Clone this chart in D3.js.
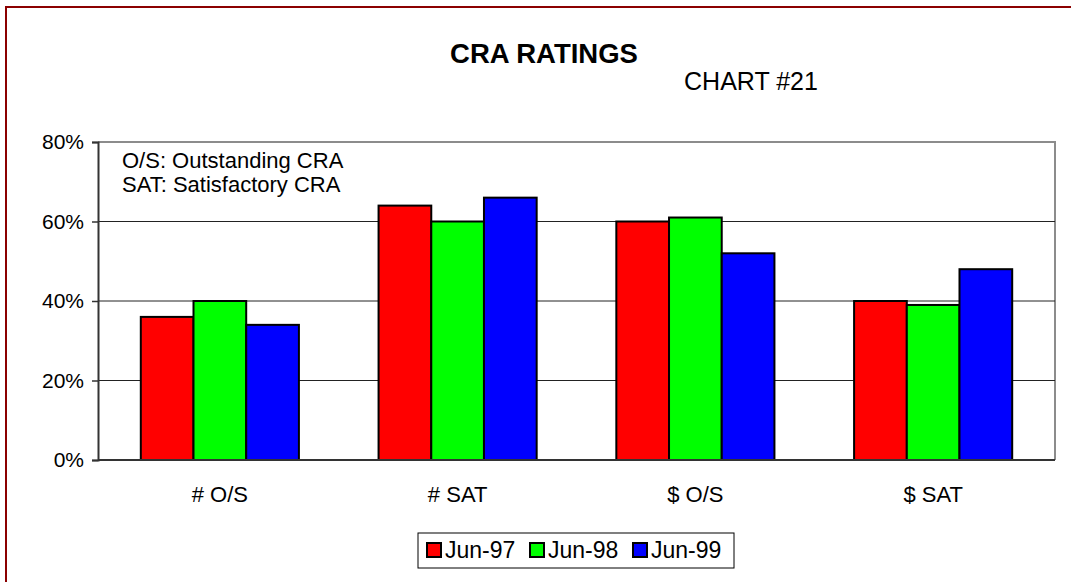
<!DOCTYPE html>
<html><head><meta charset="utf-8">
<script src="https://cdn.jsdelivr.net/npm/d3@7"></script>
<style>body{margin:0;background:#fff;}svg{display:block;font-family:Arial,"Liberation Sans",sans-serif;}</style>
</head><body>
<svg id="c" width="1071" height="582"></svg>
<script>
const categories = ["# O/S", "# SAT", "$ O/S", "$ SAT"];
const seriesNames = ["Jun-97", "Jun-98", "Jun-99"];
const seriesColors = ["#ff0000", "#00ff00", "#0000ff"];
const jun97 = [36, 64, 60, 40];
const jun98 = [40, 60, 61, 39];
const jun99 = [34, 66, 52, 48];
const yTicks = [0, 20, 40, 60, 80];
const tickLabels = ["0%", "20%", "40%", "60%", "80%"];
const notes = ["O/S: Outstanding CRA", "SAT: Satisfactory CRA"];

const series = [jun97, jun98, jun99];
const svg = d3.select("#c");

// outer border
svg.append("rect").attr("x", 6).attr("y", 7).attr("width", 1100).attr("height", 600)
  .attr("fill", "none").attr("stroke", "#8b0000").attr("stroke-width", 2);

const L = 98, R = 1055, T = 142, B = 460;
const x = d3.scaleBand().domain(categories).range([L, R]).paddingInner(0.335).paddingOuter(0.18);
const xs = d3.scaleBand().domain(seriesNames).range([0, x.bandwidth()]);
const y = d3.scaleLinear().domain([0, 80]).range([B, T]);

// plot frame (top/right gray)
svg.append("path").attr("d", `M${L},${T}H${R}V${B}`).attr("fill", "none")
  .attr("stroke", "#8c8c8c").attr("stroke-width", 2);

// gridlines
svg.append("g").selectAll("line").data(yTicks.filter(d => d > 0 && d < 80)).join("line")
  .attr("x1", L).attr("x2", R).attr("y1", d => y(d)).attr("y2", d => y(d))
  .attr("stroke", "#222").attr("stroke-width", 1);

// bars
const g = svg.append("g").selectAll("g").data(categories).join("g")
  .attr("transform", d => `translate(${x(d)},0)`);
g.selectAll("rect").data((c, i) => series.map((s, k) => ({ k, v: s[i] }))).join("rect")
  .attr("x", d => xs(seriesNames[d.k])).attr("width", xs.bandwidth())
  .attr("y", d => y(d.v)).attr("height", d => B - y(d.v))
  .attr("fill", d => seriesColors[d.k]).attr("stroke", "#000").attr("stroke-width", 2);

// y axis
const ya = svg.append("g").attr("transform", `translate(${L},0)`)
  .call(d3.axisLeft(y).tickValues(yTicks).tickFormat((d, i) => tickLabels[i]).tickSize(6).tickPadding(8));
ya.select(".domain").attr("stroke", "#333").attr("stroke-width", 2);
ya.selectAll(".tick line").attr("stroke", "#333").attr("stroke-width", 1.5);
ya.selectAll("text").attr("font-size", 21).attr("font-family", "Arial, 'Liberation Sans', sans-serif").attr("fill", "#000");

// x axis
const xa = svg.append("g").attr("transform", `translate(0,${B})`)
  .call(d3.axisBottom(x).tickSize(0).tickPadding(26));
xa.select(".domain").attr("stroke", "#333").attr("stroke-width", 2).attr("d", `M${L},0H${R}`);
xa.selectAll("text").attr("font-size", 22).attr("font-family", "Arial, 'Liberation Sans', sans-serif").attr("fill", "#000");

// title
svg.append("text").attr("x", 544).attr("y", 63).attr("text-anchor", "middle")
  .attr("font-size", 27.5).attr("font-weight", "bold").text("CRA RATINGS");
svg.append("text").attr("x", 751).attr("y", 90).attr("text-anchor", "middle")
  .attr("font-size", 25).text("CHART #21");

// notes
svg.append("g").selectAll("text").data(notes).join("text")
  .attr("x", 122).attr("y", (d, i) => 168 + i * 24).attr("font-size", 22).text(d => d);

// legend
const lg = svg.append("g");
lg.append("rect").attr("x", 418).attr("y", 533).attr("width", 316).attr("height", 35)
  .attr("fill", "#fff").attr("stroke", "#000").attr("stroke-width", 1);
const li = lg.selectAll("g").data(seriesNames).join("g")
  .attr("transform", (d, i) => `translate(${427 + i * 103},543)`);
li.append("rect").attr("width", 14).attr("height", 14)
  .attr("fill", (d, i) => seriesColors[i]).attr("stroke", "#000").attr("stroke-width", 2);
li.append("text").attr("x", 18).attr("y", 15).attr("font-size", 23).text(d => d);
</script>
</body></html>
